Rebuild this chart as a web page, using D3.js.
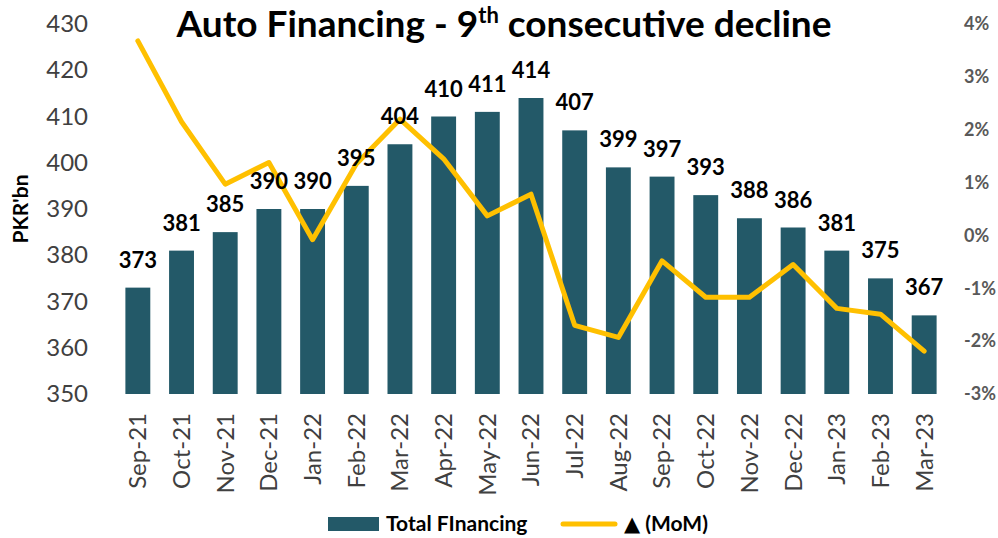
<!DOCTYPE html>
<html>
<head>
<meta charset="utf-8">
<script src="https://cdn.jsdelivr.net/npm/d3@7"></script>
<style>
  body { margin: 0; background: #fff; }
  svg { font-family: Lato, "Open Sans", sans-serif; }
</style>
</head>
<body>
<div id="chart"></div>
<script>
// chart data
const months = ["Sep-21", "Oct-21", "Nov-21", "Dec-21", "Jan-22", "Feb-22", "Mar-22", "Apr-22",
    "May-22", "Jun-22", "Jul-22", "Aug-22", "Sep-22", "Oct-22", "Nov-22", "Dec-22", "Jan-23",
    "Feb-23", "Mar-23"];
const financing = [373, 381, 385, 390, 390, 395, 404, 410, 411, 414, 407, 399, 397, 393, 388, 386, 381, 375, 367];
const mom = [3.68, 2.15, 0.97, 1.38, -0.08, 1.35, 2.2, 1.45, 0.37, 0.78, -1.7, -1.93, -0.48, -1.17, -1.17,
    -0.55, -1.38, -1.49, -2.19];
const leftTicks = [350, 360, 370, 380, 390, 400, 410, 420, 430];
const rightTicks = [-3, -2, -1, 0, 1, 2, 3, 4];

const W = 998, H = 538;
const plot = {left: 116, right: 946, top: 24, bottom: 394};

const svg = d3.select("#chart")
    .append("svg")
    .attr("width", W)
    .attr("height", H);

// scales
const x = d3.scaleBand()
    .domain(months)
    .range([plot.left, plot.right])
    .paddingInner(0.43)
    .paddingOuter(0.215);
const y = d3.scaleLinear()
    .domain([350, 430])
    .range([plot.bottom, plot.top]);
const y2 = d3.scaleLinear()
    .domain([-3, 4])
    .range([plot.bottom, plot.top]);

// left axis
const gLeft = svg.append("g")
    .attr("transform", "translate(" + plot.left + ",0)")
    .call(d3.axisLeft(y).tickValues(leftTicks).tickSize(0).tickPadding(28));
gLeft.select(".domain").remove();
gLeft.selectAll("text")
    .attr("font-size", 24)
    .attr("font-family", "Lato, sans-serif")
    .attr("fill", "#404040");

// right axis
const gRight = svg.append("g")
    .attr("transform", "translate(" + plot.right + ",0)")
    .call(d3.axisRight(y2).tickValues(rightTicks).tickSize(0).tickPadding(18)
        .tickFormat(d => d + "%"));
gRight.select(".domain").remove();
gRight.selectAll("text")
    .attr("font-size", 18)
    .attr("font-weight", "bold")
    .attr("font-family", "Lato, sans-serif")
    .attr("fill", "#595959");

// x axis
const gX = svg.append("g")
    .attr("transform", "translate(0," + plot.bottom + ")")
    .call(d3.axisBottom(x).tickSize(0));
gX.select(".domain").remove();
gX.selectAll("text")
    .attr("transform", "rotate(-90)")
    .attr("text-anchor", "end")
    .attr("x", -19)
    .attr("y", 0)
    .attr("dy", "0.35em")
    .attr("font-size", 24)
    .attr("font-family", "Lato, sans-serif")
    .attr("fill", "#404040");

// bars
svg.append("g")
    .selectAll("rect")
    .data(financing)
    .enter()
    .append("rect")
    .attr("x", (d, i) => x(months[i]))
    .attr("y", d => y(d))
    .attr("width", x.bandwidth())
    .attr("height", d => y(350) - y(d))
    .attr("fill", "#235968");

// line
svg.append("path")
    .datum(mom)
    .attr("fill", "none")
    .attr("stroke", "#FFC000")
    .attr("stroke-width", 5)
    .attr("stroke-linejoin", "round")
    .attr("stroke-linecap", "round")
    .attr("d", d3.line()
        .x((d, i) => x(months[i]) + x.bandwidth() / 2)
        .y(d => y2(d)));

// data labels
svg.append("g")
    .selectAll("text")
    .data(financing)
    .enter()
    .append("text")
    .attr("x", (d, i) => x(months[i]) + x.bandwidth() / 2)
    .attr("y", d => y(d) - 20)
    .attr("text-anchor", "middle")
    .attr("font-size", 22)
    .attr("font-weight", "bold")
    .attr("fill", "#000")
    .text(d => d);

// y title
svg.append("text")
    .attr("transform", "translate(28,209) rotate(-90)")
    .attr("text-anchor", "middle")
    .attr("font-size", 21)
    .attr("font-weight", "bold")
    .text("PKR'bn");

// chart title
const title = svg.append("text")
    .attr("x", 504)
    .attr("y", 37)
    .attr("text-anchor", "middle")
    .attr("font-size", 37)
    .attr("font-weight", "bold")
    .attr("fill", "#000");
title.append("tspan").text("Auto Financing - 9");
title.append("tspan").attr("font-size", 22).attr("dy", -14).text("th");
title.append("tspan").attr("dy", 14).text(" consecutive decline");

// legend
const legend = svg.append("g");
legend.append("rect")
    .attr("x", 328).attr("y", 517)
    .attr("width", 51).attr("height", 14)
    .attr("fill", "#235968");
legend.append("text")
    .attr("x", 386).attr("y", 531)
    .attr("font-size", 21).attr("font-weight", "bold")
    .text("Total FInancing");
legend.append("line")
    .attr("x1", 563).attr("x2", 615)
    .attr("y1", 524).attr("y2", 524)
    .attr("stroke", "#FFC000").attr("stroke-width", 5)
    .attr("stroke-linecap", "round");
const lt = legend.append("text")
    .attr("x", 624).attr("y", 531)
    .attr("font-size", 21).attr("font-weight", "bold");
lt.append("tspan").attr("font-family", "DejaVu Sans").attr("font-size", 21).text("\u25B2");
lt.append("tspan").text("\u00A0(MoM)");
</script>
</body>
</html>
